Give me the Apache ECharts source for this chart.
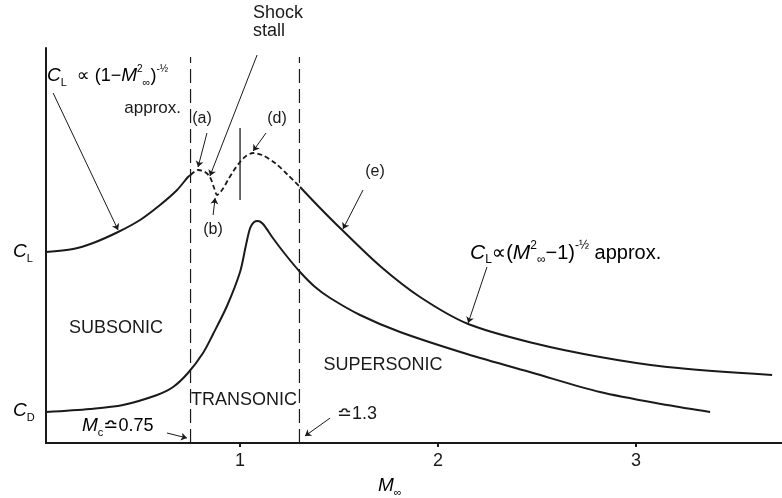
<!DOCTYPE html>
<html>
<head>
<meta charset="utf-8">
<script src="https://cdn.jsdelivr.net/npm/echarts@6/dist/echarts.min.js"></script>
<style>html,body{margin:0;padding:0;background:#fff;}#c{width:782px;height:498px;}</style>
</head>
<body>
<div id="c"></div>
<script>
// ---- data (Mach number, coefficient in arbitrary units) ----
const clSubsonicMach = [0.02, 0.157, 0.258, 0.384, 0.495, 0.596, 0.682, 0.737, 0.75];
const clSubsonicVal  = [1.91, 1.94, 2.00, 2.11, 2.23, 2.38, 2.53, 2.66, 2.68];

const clTransonicMach = [0.75, 0.788, 0.823, 0.848, 0.869, 0.884, 0.909, 0.939, 0.970, 1.0, 1.030, 1.066, 1.111, 1.177, 1.242, 1.303];
const clTransonicVal  = [2.68, 2.73, 2.71, 2.66, 2.55, 2.48, 2.53, 2.63, 2.73, 2.81, 2.87, 2.90, 2.88, 2.80, 2.68, 2.56];

const clSupersonicMach = [1.303, 1.404, 1.505, 1.707, 1.909, 2.152, 2.480, 2.818, 3.157, 3.687];
const clSupersonicVal  = [2.56, 2.35, 2.15, 1.77, 1.46, 1.19, 1.00, 0.86, 0.76, 0.68];

const cdMach = [0.02, 0.242, 0.409, 0.581, 0.662, 0.737, 0.813, 0.864, 0.934, 1.0, 1.030, 1.051, 1.071, 1.091, 1.116, 1.162, 1.227, 1.303, 1.379, 1.455, 1.606, 1.808, 2.146, 2.480, 2.818, 3.157, 3.374];
const cdVal  = [0.31, 0.34, 0.38, 0.48, 0.56, 0.70, 0.90, 1.09, 1.37, 1.71, 1.98, 2.15, 2.21, 2.22, 2.19, 2.06, 1.89, 1.71, 1.56, 1.45, 1.28, 1.11, 0.89, 0.70, 0.51, 0.38, 0.31];

const regionBounds = [0.75, 1.3];       // Mc ~ 0.75, ~1.3
const boundTop = 3.86;
const sonicMarkerMach = 1.0;
const sonicMarkerRange = [2.43, 3.15];
const xTickValues = [1, 2, 3];
const xTickLabels = ['1', '2', '3'];

// arrows: [fromMach, fromVal, toMach, toVal]
const arrows = [
  [0.056, 3.50, 0.384, 2.13],
  [0.833, 3.10, 0.788, 2.76],
  [1.086, 3.88, 0.848, 2.67],
  [0.864, 2.28, 0.874, 2.45],
  [1.131, 3.10, 1.066, 2.92],
  [1.621, 2.53, 1.520, 2.14],
  [2.247, 1.76, 2.152, 1.20],
  [0.631, 0.10, 0.732, 0.05],
  [1.455, 0.25, 1.328, 0.07]
];

const zip = (a, b) => a.map((v, i) => [v, b[i]]);
const FONT = "'Liberation Sans', 'DejaVu Sans', Arial, sans-serif";
const INK = '#1a1a1a';

const chart = echarts.init(document.getElementById('c'), null, { renderer: 'canvas' });

function richSet(base) {
  return {
    n:   { fontSize: base, fontFamily: FONT, color: INK, lineHeight: base + 6 },
    ci:  { fontSize: base + 1, fontFamily: FONT, fontStyle: 'italic', color: INK, lineHeight: base + 6 },
    sub: { fontSize: Math.round(base * 0.62), fontFamily: FONT, color: INK, lineHeight: base + 6, verticalAlign: 'bottom' },
    sup: { fontSize: Math.round(base * 0.58), fontFamily: FONT, color: INK, lineHeight: base + 6, verticalAlign: 'top' }
  };
}
const richL = richSet(18);
const richR = richSet(20);

const curveStyle = { color: INK, width: 2 };

chart.setOption({
  animation: false,
  backgroundColor: '#fff',
  grid: { left: 46, right: 0, top: 48, bottom: 55 },
  xAxis: {
    type: 'value', min: 0.02, max: 3.737,
    axisLine: { show: true, lineStyle: { color: INK, width: 2 } },
    axisTick: { show: true, length: 4, customValues: xTickValues, lineStyle: { color: INK, width: 2 } },
    axisLabel: { customValues: xTickValues, formatter: v => xTickLabels[xTickValues.indexOf(v)] ?? '',
                 fontSize: 18, fontFamily: FONT, color: INK, margin: 9 },
    splitLine: { show: false }
  },
  yAxis: {
    type: 'value', min: 0, max: 3.95,
    axisLine: { show: true, onZero: false, lineStyle: { color: INK, width: 2 } },
    axisTick: { show: false }, axisLabel: { show: false }, splitLine: { show: false }
  },
  series: [
    { type: 'line', data: zip(clSubsonicMach, clSubsonicVal), smooth: 0.3, symbol: 'none', lineStyle: curveStyle },
    { type: 'line', data: zip(clTransonicMach, clTransonicVal), smooth: 0.3, symbol: 'none',
      lineStyle: { color: INK, width: 1.8, type: [5, 3] } },
    { type: 'line', data: zip(clSupersonicMach, clSupersonicVal), smooth: 0.3, symbol: 'none', lineStyle: curveStyle },
    { type: 'line', data: zip(cdMach, cdVal), smooth: 0.3, symbol: 'none', lineStyle: curveStyle },
    ...regionBounds.map(m => ({
      type: 'line', data: [[m, 0], [m, boundTop]], symbol: 'none',
      lineStyle: { color: INK, width: 1.2, type: [14, 6] }
    })),
    { type: 'line', data: [[sonicMarkerMach, sonicMarkerRange[0]], [sonicMarkerMach, sonicMarkerRange[1]]],
      symbol: 'none', lineStyle: { color: INK, width: 1.3 } },
    { type: 'lines', coordinateSystem: 'cartesian2d', polyline: false,
      symbol: ['none', 'arrow'], symbolSize: 6,
      lineStyle: { color: INK, width: 1, opacity: 1 },
      data: arrows.map(a => ({ coords: [[a[0], a[1]], [a[2], a[3]]] })) }
  ],
  graphic: [
    { type: 'text', left: 253, top: 4, style: { text: 'Shock\nstall', font: '18px ' + FONT, fill: INK, lineHeight: 18 } },
    { type: 'text', x: 47, y: 76, style: {
        text: '{ci|C}{sub|L}{n|  ∝ (1−}{ci|M}{sup|2}{sub|∞}{n|)}{sup|-½}',
        rich: richL, verticalAlign: 'middle', align: 'left' } },
    { type: 'text', x: 181, y: 108, style: { text: 'approx.', font: '17px ' + FONT, fill: INK, align: 'right', verticalAlign: 'middle' } },
    { type: 'text', x: 202, y: 119, style: { text: '(a)', font: '16px ' + FONT, fill: INK, align: 'center', verticalAlign: 'middle' } },
    { type: 'text', x: 277, y: 119, style: { text: '(d)', font: '16px ' + FONT, fill: INK, align: 'center', verticalAlign: 'middle' } },
    { type: 'text', x: 213, y: 230, style: { text: '(b)', font: '16px ' + FONT, fill: INK, align: 'center', verticalAlign: 'middle' } },
    { type: 'text', x: 375, y: 172, style: { text: '(e)', font: '16px ' + FONT, fill: INK, align: 'center', verticalAlign: 'middle' } },
    { type: 'text', x: 470, y: 253, style: {
        text: '{ci|C}{sub|L}{n|∝(}{ci|M}{sup|2}{sub|∞}{n|−1)}{sup|-½}{n| approx.}',
        rich: richR, verticalAlign: 'middle', align: 'left' } },
    { type: 'text', x: 116, y: 328, style: { text: 'SUBSONIC', font: '18px ' + FONT, fill: INK, align: 'center', verticalAlign: 'middle' } },
    { type: 'text', x: 244, y: 400, style: { text: 'TRANSONIC', font: '18px ' + FONT, fill: INK, align: 'center', verticalAlign: 'middle' } },
    { type: 'text', x: 383, y: 365, style: { text: 'SUPERSONIC', font: '18px ' + FONT, fill: INK, align: 'center', verticalAlign: 'middle' } },
    { type: 'text', x: 82, y: 426, style: {
        text: '{ci|M}{sub|c}{n|≏0.75}', rich: richL, verticalAlign: 'middle', align: 'left' } },
    { type: 'text', x: 337, y: 414, style: { text: '≏1.3', font: '18px ' + FONT, fill: INK, align: 'left', verticalAlign: 'middle' } },
    { type: 'text', x: 13, y: 252, style: { text: '{ci|C}{sub|L}', rich: richL, verticalAlign: 'middle', align: 'left' } },
    { type: 'text', x: 13, y: 411, style: { text: '{ci|C}{sub|D}', rich: richL, verticalAlign: 'middle', align: 'left' } },
    { type: 'text', x: 378, y: 486, style: { text: '{ci|M}{sub|∞}', rich: richL, verticalAlign: 'middle', align: 'left' } }
  ]
});
</script>
</body>
</html>
